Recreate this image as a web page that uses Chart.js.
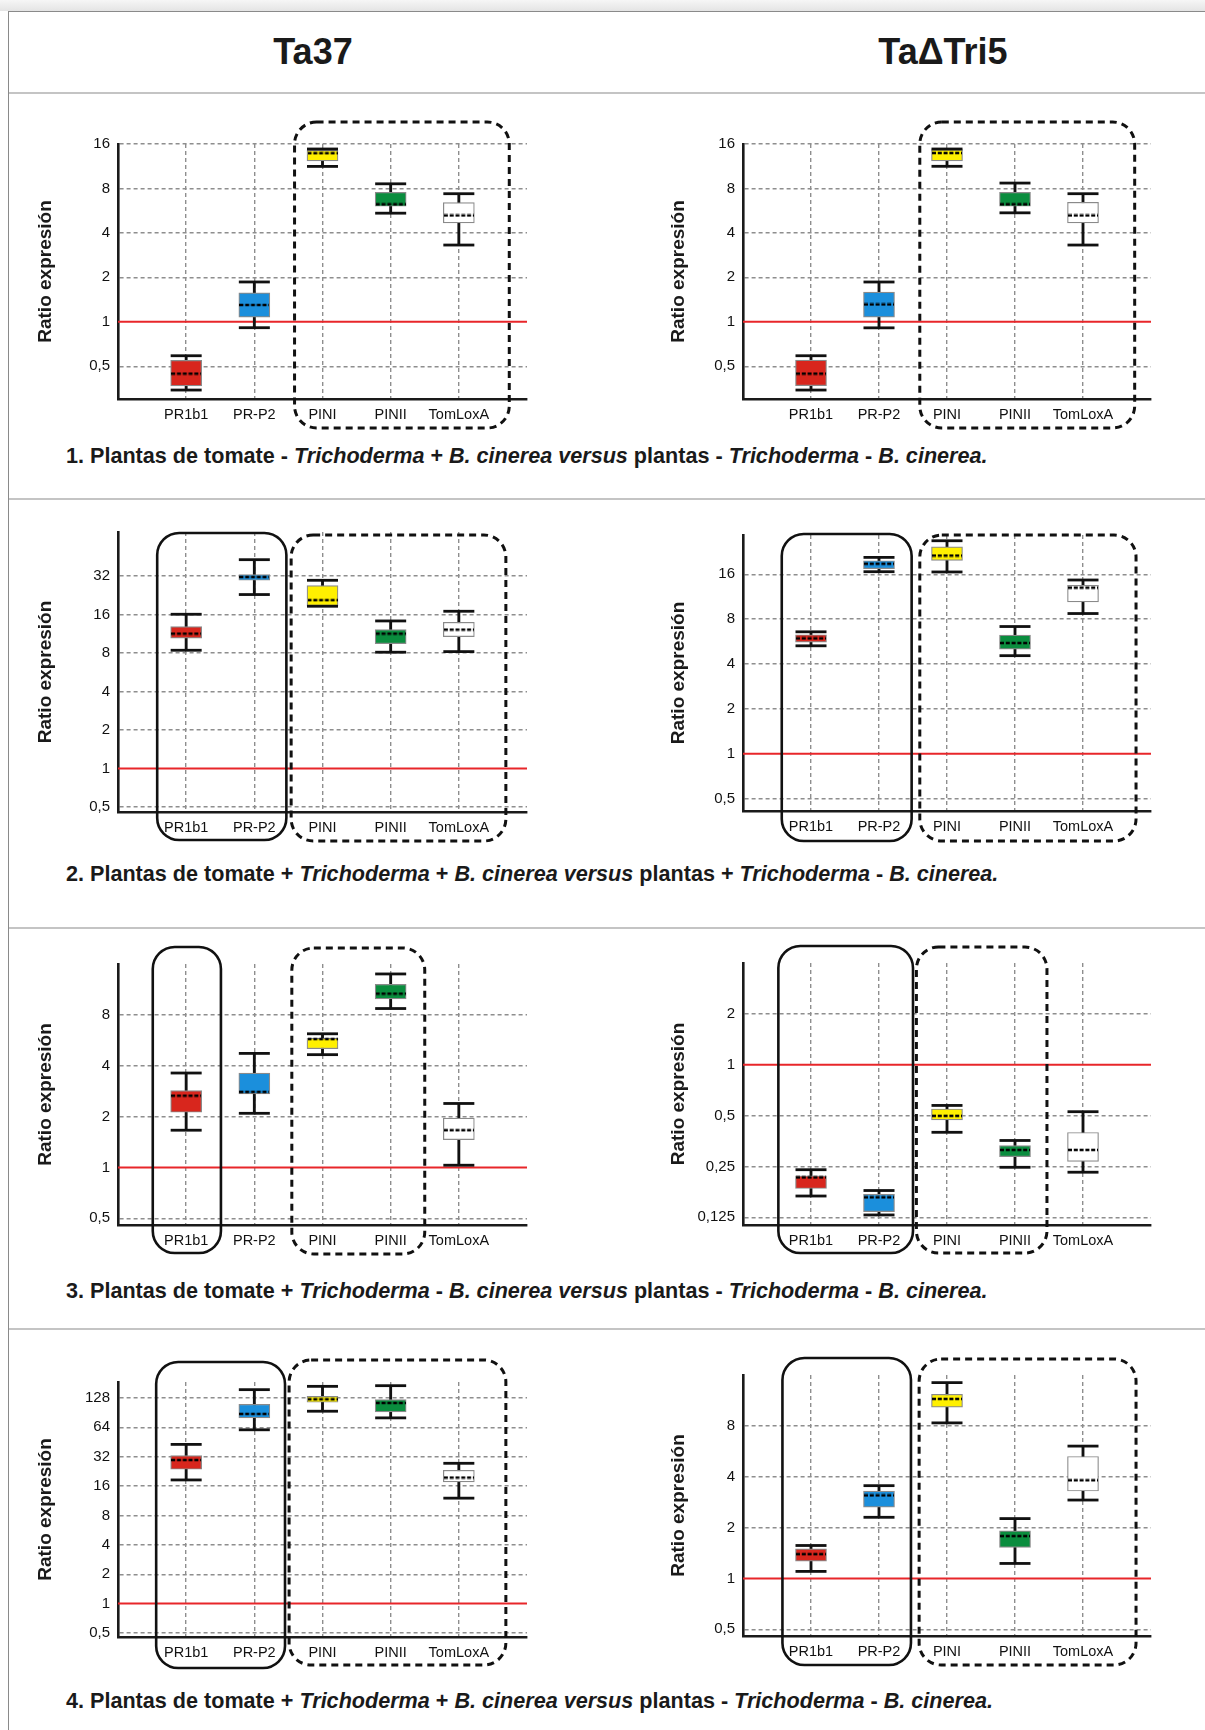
<!DOCTYPE html>
<html lang="es">
<head>
<meta charset="utf-8">
<title>Ratio expresión</title>
<script src="https://cdn.jsdelivr.net/npm/chart.js@4.4.1/dist/chart.umd.min.js"></script>
<style>
  html, body { margin: 0; padding: 0; background: #fff; }
  body {
    width: 1205px; height: 1730px; position: relative; overflow: hidden;
    font-family: 'Liberation Sans Narrow', 'Arial Narrow', 'Liberation Sans', Arial, sans-serif;
    color: #1a1a1a;
  }
  .shadow { position: absolute; left: 0; top: 0; width: 1205px; height: 11px; background: linear-gradient(#f6f6f6, #e4e4e4); }
  .frame { position: absolute; left: 8px; top: 11px; width: 1300px; height: 1800px; border-left: 1.5px solid #8a8a8a; border-top: 1.5px solid #8a8a8a; }
  .sep { position: absolute; left: 9px; width: 1196px; height: 2px; background: #c4c4c4; }
  .head { position: absolute; top: 30px; font-weight: bold; font-size: 36px; line-height: 44px; transform: translateX(-50%); white-space: nowrap; }
  .cap { position: absolute; left: 66px; font-weight: bold; font-size: 21.6px; line-height: 26px; white-space: nowrap; }
  canvas { position: absolute; }
</style>
</head>
<body>
<div class="shadow"></div>
<div class="frame"></div>
<div class="head" style="left:313px">Ta37</div>
<div class="head" style="left:943px">TaΔTri5</div>
<div class="sep" style="top:92px"></div>
<div class="sep" style="top:498px"></div>
<div class="sep" style="top:927px"></div>
<div class="sep" style="top:1328px"></div>

<div class="cap" style="top:443px">1. Plantas de tomate - <i>Trichoderma</i> + <i>B. cinerea versus</i> plantas - <i>Trichoderma</i> - <i>B. cinerea.</i></div>
<div class="cap" style="top:861px">2. Plantas de tomate + <i>Trichoderma</i> + <i>B. cinerea versus</i> plantas + <i>Trichoderma</i> - <i>B. cinerea.</i></div>
<div class="cap" style="top:1278px">3. Plantas de tomate + <i>Trichoderma</i> - <i>B. cinerea versus</i> plantas - <i>Trichoderma</i> - <i>B. cinerea.</i></div>
<div class="cap" style="top:1688px">4. Plantas de tomate + <i>Trichoderma</i> + <i>B. cinerea versus</i> plantas - <i>Trichoderma</i> - <i>B. cinerea.</i></div>

<script>
// 遺伝子（カテゴリ）
const genes = ['PR1b1', 'PR-P2', 'PINI', 'PINII', 'TomLoxA'];

// 各パネルの箱ひげ図データ: [最小, Q1, 中央値, Q3, 最大]
const p1Ta37 = [
    [0.345, 0.368, 0.446, 0.548, 0.589],
    [0.912, 1.075, 1.30, 1.571, 1.861],
    [11.28, 12.3, 13.86, 14.5, 14.8],
    [5.44, 6.06, 6.25, 7.52, 8.6],
    [3.31, 4.67, 5.25, 6.42, 7.37]
];
const p1Tri5 = [
    [0.345, 0.37, 0.446, 0.55, 0.589],
    [0.91, 1.075, 1.31, 1.59, 1.86],
    [11.3, 12.3, 13.9, 14.66, 14.8],
    [5.47, 6.06, 6.25, 7.52, 8.7],
    [3.31, 4.67, 5.25, 6.45, 7.37]
];
const p2Ta37 = [
    [8.4, 10.43, 11.34, 12.86, 16.06],
    [22.9, 29.6, 31.4, 32.8, 42.9],
    [18.55, 18.77, 20.7, 26.9, 29.6],
    [8.11, 9.47, 11.34, 12.19, 14.24],
    [8.2, 10.75, 12.19, 13.9, 16.95]
];
const p2Tri5 = [
    [5.3, 5.61, 5.94, 6.29, 6.58],
    [16.67, 17.5, 18.86, 19.75, 20.8],
    [16.6, 19.85, 21.4, 24.5, 26.9],
    [4.55, 5.04, 5.53, 6.25, 7.14],
    [8.73, 10.45, 13.03, 13.5, 14.66]
];
const p3Ta37 = [
    [1.66, 2.12, 2.66, 2.85, 3.62],
    [2.09, 2.72, 2.8, 3.62, 4.73],
    [4.65, 5.04, 5.75, 5.83, 6.18],
    [8.72, 9.94, 10.69, 12.13, 13.97],
    [1.03, 1.46, 1.66, 1.96, 2.39]
];
const p3Tri5 = [
    [0.167, 0.185, 0.215, 0.22, 0.239],
    [0.129, 0.135, 0.164, 0.171, 0.18],
    [0.398, 0.471, 0.498, 0.547, 0.574],
    [0.247, 0.286, 0.313, 0.332, 0.356],
    [0.231, 0.268, 0.313, 0.397, 0.527]
];
const p4Ta37 = [
    [18.5, 23.8, 29.6, 32.8, 42.8],
    [60.4, 80.0, 87.9, 110.3, 155.7],
    [93.6, 115.6, 124.1, 133.1, 168.3],
    [80.0, 92.2, 113.8, 123.1, 171],
    [12.04, 17.68, 19.57, 23.25, 27.4]
];
const p4Tri5 = [
    [1.1, 1.266, 1.392, 1.497, 1.566],
    [2.3, 2.64, 3.10, 3.29, 3.54],
    [8.33, 10.31, 11.55, 12.3, 14.42],
    [1.226, 1.524, 1.78, 1.91, 2.26],
    [2.91, 3.29, 3.81, 5.27, 6.07]
];

// 目盛り（対数軸, 2倍刻み）
const ticks1 = [0.5, 1, 2, 4, 8, 16];
const ticks2a = [0.5, 1, 2, 4, 8, 16, 32];
const ticks2b = [0.5, 1, 2, 4, 8, 16];
const ticks3a = [0.5, 1, 2, 4, 8];
const ticks3b = [0.125, 0.25, 0.5, 1, 2];
const ticks4a = [0.5, 1, 2, 4, 8, 16, 32, 64, 128];
const ticks4b = [0.5, 1, 2, 4, 8];

// 基準線（比率 = 1）
const refLevel = 1;

// 見た目の設定
const FONT = "'Liberation Sans Narrow', 'Arial Narrow', 'Liberation Sans', Arial, sans-serif";
const INK = '#1a1a1a';
const GRID = '#8e8e8e';
const boxColors = ['#d8261d', '#1b8fdc', '#fff000', '#0a8d3e', '#ffffff'];

// パネルのレイアウト（ピクセル）
const COL = [
    { left: 20, width: 540, chartLeft: 118, chartRight: 527, titlePad: 14 },
    { left: 646, width: 540, chartLeft: 743, chartRight: 1151, titlePad: 21 }
];
const panels = [
    { col: 0, top: 112, chartTop: 144, chartBottom: 399, data: p1Ta37, ticks: ticks1, yMin: 0.31, yMax: 16,
      groups: [{ from: 2.59, to: 5.74, top: -22, bottom: 29, dashed: true }] },
    { col: 1, top: 112, chartTop: 144, chartBottom: 399, data: p1Tri5, ticks: ticks1, yMin: 0.31, yMax: 16,
      groups: [{ from: 2.6, to: 5.76, top: -22, bottom: 29, dashed: true }] },
    { col: 0, top: 512, chartTop: 532, chartBottom: 812, data: p2Ta37, ticks: ticks2a, yMin: 0.457, yMax: 70.6,
      groups: [{ from: 0.575, to: 2.47, top: 1, bottom: 28, dashed: false },
               { from: 2.54, to: 5.69, top: 3, bottom: 29, dashed: true }] },
    { col: 1, top: 512, chartTop: 535, chartBottom: 811, data: p2Tri5, ticks: ticks2b, yMin: 0.412, yMax: 29.4,
      groups: [{ from: 0.57, to: 2.48, top: -1, bottom: 30, dashed: false },
               { from: 2.6, to: 5.78, top: 0, bottom: 30, dashed: true }] },
    { col: 0, top: 935, chartTop: 964, chartBottom: 1225, data: p3Ta37, ticks: ticks3a, yMin: 0.456, yMax: 16,
      groups: [{ from: 0.51, to: 1.51, top: -17, bottom: 28, dashed: false },
               { from: 2.55, to: 4.5, top: -16, bottom: 29, dashed: true }] },
    { col: 1, top: 935, chartTop: 963, chartBottom: 1225, data: p3Tri5, ticks: ticks3b, yMin: 0.1125, yMax: 4,
      groups: [{ from: 0.52, to: 2.5, top: -17, bottom: 28, dashed: false },
               { from: 2.55, to: 4.47, top: -16, bottom: 28, dashed: true }] },
    { col: 0, top: 1345, chartTop: 1382, chartBottom: 1637, data: p4Ta37, ticks: ticks4a, yMin: 0.455, yMax: 186.5,
      groups: [{ from: 0.56, to: 2.45, top: -20, bottom: 31, dashed: false },
               { from: 2.51, to: 5.69, top: -22, bottom: 28, dashed: true }] },
    { col: 1, top: 1345, chartTop: 1375, chartBottom: 1636, data: p4Tri5, ticks: ticks4b, yMin: 0.456, yMax: 16,
      groups: [{ from: 0.58, to: 2.47, top: -17, bottom: 29, dashed: false },
               { from: 2.59, to: 5.78, top: -16, bottom: 29, dashed: true }] }
];

// 中央値マーカー（点線）を画像として作成
function makeMedianMark() {
    const c = document.createElement('canvas');
    c.width = 30; c.height = 4;
    const g = c.getContext('2d');
    g.strokeStyle = '#000';
    g.lineWidth = 2.6;
    g.setLineDash([4, 1.8]);
    g.beginPath(); g.moveTo(0, 2); g.lineTo(30, 2); g.stroke();
    return c;
}
const medianMark = makeMedianMark();

// 角丸のグループ枠を描くプラグイン
const groupBoxes = {
    id: 'groupBoxes',
    afterDraw(chart, args, opts) {
        const { ctx, chartArea, scales: { x } } = chart;
        (opts.groups || []).forEach(g => {
            const x1 = x.getPixelForValue(g.from);
            const x2 = x.getPixelForValue(g.to);
            const y1 = chartArea.top + g.top;
            const y2 = chartArea.bottom + g.bottom;
            ctx.save();
            ctx.strokeStyle = '#111';
            ctx.lineWidth = g.dashed ? 3 : 2.6;
            ctx.setLineDash(g.dashed ? [7, 5] : []);
            ctx.beginPath();
            ctx.roundRect(x1, y1, x2 - x1, y2 - y1, 22);
            ctx.stroke();
            ctx.restore();
        });
    }
};

function buildPanel(p) {
    const col = COL[p.col];
    const height = p.chartBottom + 45 - p.top;
    const cv = document.createElement('canvas');
    cv.width = col.width;
    cv.height = height;
    cv.style.left = col.left + 'px';
    cv.style.top = p.top + 'px';
    document.body.appendChild(cv);

    const rows = p.data;
    new Chart(cv, {
        type: 'bar',
        data: {
            datasets: [
                // 基準線
                { type: 'line', data: [{ x: 0, y: refLevel }, { x: 6, y: refLevel }],
                  borderColor: '#e8262a', borderWidth: 2, pointRadius: 0, order: 5 },
                // ひげ（縦線）
                { data: rows.map((r, i) => ({ x: i + 1, y: [r[0], r[4]] })),
                  backgroundColor: '#111', barThickness: 2.2, grouped: false, order: 4 },
                // 箱（Q1〜Q3）
                { data: rows.map((r, i) => ({ x: i + 1, y: [r[1], r[3]] })),
                  backgroundColor: boxColors, borderColor: '#8a8a8a', borderWidth: 1.2,
                  borderSkipped: false, barThickness: 31, grouped: false, order: 3 },
                // ひげの端
                { type: 'line', showLine: false,
                  data: rows.flatMap((r, i) => [{ x: i + 1, y: r[0] }, { x: i + 1, y: r[4] }]),
                  pointStyle: 'line', pointRadius: 15.5, borderColor: '#111', borderWidth: 2.8, order: 2 },
                // 中央値
                { type: 'line', showLine: false,
                  data: rows.map((r, i) => ({ x: i + 1, y: r[2] })),
                  pointStyle: medianMark, pointRadius: 15, order: 1 }
            ]
        },
        options: {
            responsive: false,
            animation: false,
            events: [],
            layout: { padding: { left: 0, top: p.chartTop - p.top, right: col.left + col.width - col.chartRight, bottom: 0 } },
            plugins: { legend: { display: false }, tooltip: { enabled: false }, groupBoxes: { groups: p.groups } },
            scales: {
                x: {
                    type: 'linear', min: 0, max: 6, offset: false,
                    afterBuildTicks: s => { s.ticks = genes.map((g, i) => ({ value: i + 1 })); },
                    afterFit: s => { s.height = 45; },
                    ticks: { callback: v => genes[v - 1], font: { family: FONT, size: 14.5 }, color: '#111',
                             padding: 7, autoSkip: false, maxRotation: 0 },
                    grid: { color: GRID, lineWidth: 1.4, drawTicks: false, offset: false },
                    border: { display: true, color: INK, width: 2.6, dash: [4, 3] }
                },
                y: {
                    type: 'logarithmic', min: p.yMin, max: p.yMax, beginAtZero: false,
                    afterBuildTicks: s => { s.ticks = p.ticks.map(v => ({ value: v })); },
                    afterFit: s => { s.width = col.chartLeft - col.left; },
                    ticks: { callback: v => String(v).replace('.', ','), font: { family: FONT, size: 15 },
                             color: '#111', padding: 8, autoSkip: false },
                    grid: { color: c => (c.tick && c.tick.value === refLevel) ? 'rgba(0,0,0,0)' : GRID,
                            lineWidth: 1.4, drawTicks: false },
                    border: { display: true, color: INK, width: 2.6, dash: [4, 3] },
                    title: { display: true, text: 'Ratio expresión', color: INK,
                             font: { family: FONT, size: 19, weight: 'bold' }, padding: { top: col.titlePad, bottom: 0 } }
                }
            }
        },
        plugins: [groupBoxes]
    });
}

panels.forEach(buildPanel);
</script>
</body>
</html>
